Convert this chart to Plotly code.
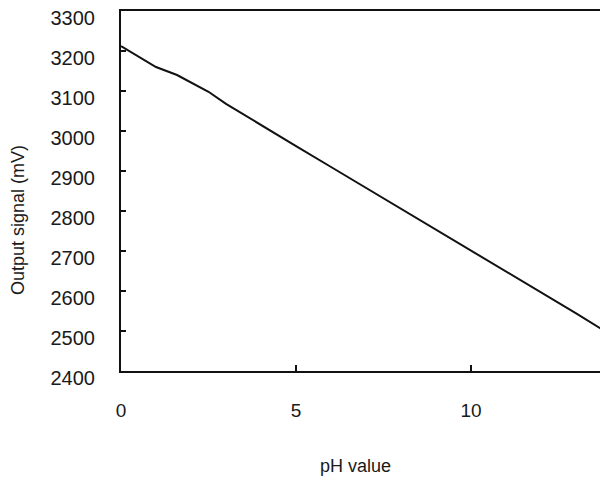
import plotly.graph_objects as go

ph = [0, 1, 1.6, 2.5, 3, 4, 5, 6, 7, 8, 9, 10, 11, 12, 13, 14]
signal_mv = [3212, 3160, 3140, 3098, 3068, 3014, 2962, 2910, 2858, 2806, 2752, 2700, 2648, 2596, 2544, 2490]
x_ticks = [0, 5, 10]
y_ticks = [2400, 2500, 2600, 2700, 2800, 2900, 3000, 3100, 3200, 3300]

FONT = "Liberation Sans, Arial, sans-serif"
TXT = "#1a1a1a"

# page body has an 8px margin; figure is sized/offset to compensate
W, H = 600, 469
ML, MT, MB = 113, 3, 106
PW, PH = W - ML, H - MT - MB

fig = go.Figure()
fig.add_trace(go.Scatter(x=ph, y=signal_mv, mode="lines",
                         line=dict(color="#111111", width=2), showlegend=False,
                         hoverinfo="skip"))

fig.update_layout(
    template="none",
    width=W, height=H,
    margin=dict(l=ML, r=0, t=MT, b=MB),
    paper_bgcolor="white", plot_bgcolor="white",
    font=dict(family=FONT, size=18, color=TXT),
    xaxis=dict(range=[0, 13.91], tickvals=x_ticks, ticks="inside", ticklen=6,
               tickwidth=2, tickcolor="#111111", showgrid=False, zeroline=False,
               showline=True, linecolor="#111111", linewidth=2, mirror=True,
               tickfont=dict(family=FONT, size=19, color=TXT), automargin=False,
               ticklabelstandoff=21, ticklabeloverflow="allow"),
    yaxis=dict(range=[2400, 3300], tickvals=y_ticks, ticks="inside", ticklen=5,
               tickwidth=2, tickcolor="#111111", showgrid=False, zeroline=False,
               showline=True, linecolor="#111111", linewidth=2, automargin=False,
               tickfont=dict(family=FONT, size=20, color=TXT),
               ticklabelstandoff=20, ticklabelshift=7, ticklabeloverflow="allow"),
)

fig.add_annotation(text="pH value", xref="paper", yref="paper", x=(347 - ML) / PW,
                   y=-(458 - (MT + PH)) / PH, showarrow=False, xanchor="center",
                   yanchor="middle", font=dict(family=FONT, size=18, color=TXT))
fig.add_annotation(text="Output signal (mV)", xref="paper", yref="paper",
                   x=-(ML - 10) / PW, y=(MT + PH - 212) / PH, textangle=-90,
                   showarrow=False, xanchor="center", yanchor="middle",
                   font=dict(family=FONT, size=18, color=TXT))

fig.write_html("out.html")
